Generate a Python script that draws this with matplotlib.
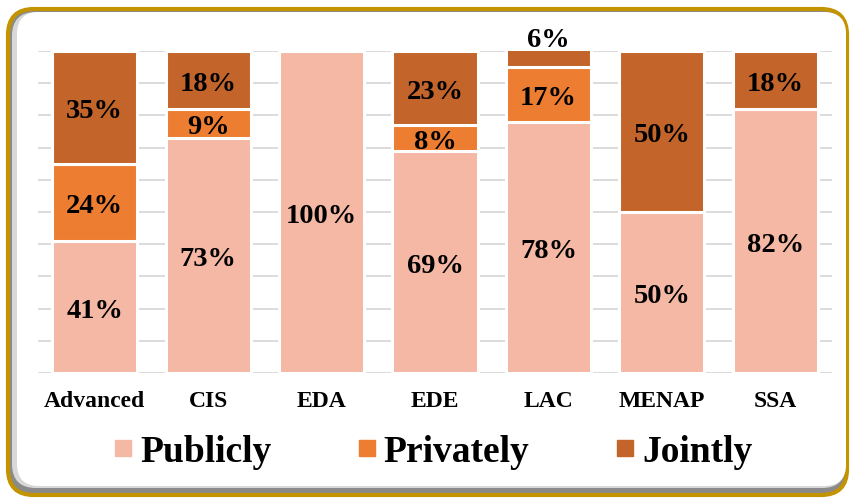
import numpy as np
import matplotlib.pyplot as plt
from matplotlib.patches import FancyBboxPatch
from matplotlib.lines import Line2D

# ---- data ----
regions   = ["Advanced", "CIS", "EDA", "EDE", "LAC", "MENAP", "SSA"]
publicly  = [41, 73, 100, 69, 78, 50, 82]
privately = [24, 9, 0, 8, 17, 0, 0]
jointly   = [35, 18, 0, 23, 6, 50, 18]
series_names = ["Publicly", "Privately", "Jointly"]

colors = ["#F4B8A4", "#ED7D31", "#C3652B"]

plt.rcParams['font.family'] = ['Liberation Serif', 'DejaVu Serif']
plt.rcParams['font.weight'] = 'bold'

fig = plt.figure(figsize=(8.5, 4.98), dpi=100)
W, H = 850, 498

# ---- rounded frame with shadow ----
def px_box(x0, y0, x1, y1, r, **kw):
    # pixel coords with y measured from top
    return FancyBboxPatch((x0 / 100, (H - y1) / 100), (x1 - x0) / 100, (y1 - y0) / 100,
                          boxstyle=f"round,pad=0,rounding_size={r/100}",
                          transform=fig.dpi_scale_trans, **kw)

fig.patches.append(px_box(8, 9, 847, 495, 26, facecolor="#8A8A8A",
                          edgecolor="#C49300", linewidth=3, zorder=-3))
fig.patches.append(px_box(12, 12, 846, 488, 24, facecolor="#D8D8D8",
                          edgecolor="none", zorder=-2))
fig.patches.append(px_box(17, 12, 846, 486, 22, facecolor="white",
                          edgecolor="none", zorder=-1))

# ---- axes ----
ax = fig.add_axes([38 / W, 1 - 373 / H, (832 - 38) / W, (373 - 51) / H])
ax.set_zorder(1)
ax.patch.set_alpha(0)
x = np.arange(len(regions))
bw = 0.75

bottom = np.zeros(len(regions))
for vals, col in zip([publicly, privately, jointly], colors):
    vals = np.array(vals, dtype=float)
    ax.bar(x, vals, bw, bottom=bottom, color=col, edgecolor="white",
           linewidth=2.2, zorder=3)
    for i, v in enumerate(vals):
        if v <= 0:
            continue
        yc = bottom[i] + v / 2
        if regions[i] == "LAC" and v == 6:
            yc = 104.5  # label sits above the (clipped) top segment
        ax.annotate(f"{int(v)}%", (x[i], yc), xytext=(0, -3),
                    textcoords="offset points", ha="center", va="center",
                    fontsize=20.5, fontweight="bold", zorder=4,
                    annotation_clip=False)
    bottom += vals

ax.set_xlim(-0.5, len(regions) - 0.5)
ax.set_ylim(0, 100)
ax.set_yticks(np.arange(0, 101, 10))
ax.yaxis.grid(True, color="#D9D9D9", linewidth=1.3, zorder=0)
ax.set_axisbelow(True)
ax.tick_params(axis="y", left=False, labelleft=False)
ax.tick_params(axis="x", length=0, pad=13)
ax.set_xticks(x)
ax.set_xticklabels(regions, fontsize=17, fontweight="bold")
for s in ax.spines.values():
    s.set_visible(False)

# ---- legend ----
handles = [Line2D([], [], marker="s", linestyle="none", markersize=12,
                  markerfacecolor=c, markeredgecolor=c) for c in colors]
fig.legend(handles, series_names, loc="center", bbox_to_anchor=(0.506, 1 - 452 / H),
           ncol=3, frameon=False, prop={"size": 27, "weight": "bold"},
           handletextpad=0.05, columnspacing=2.15, handlelength=0.8)

fig.savefig("out.png", dpi=100)
